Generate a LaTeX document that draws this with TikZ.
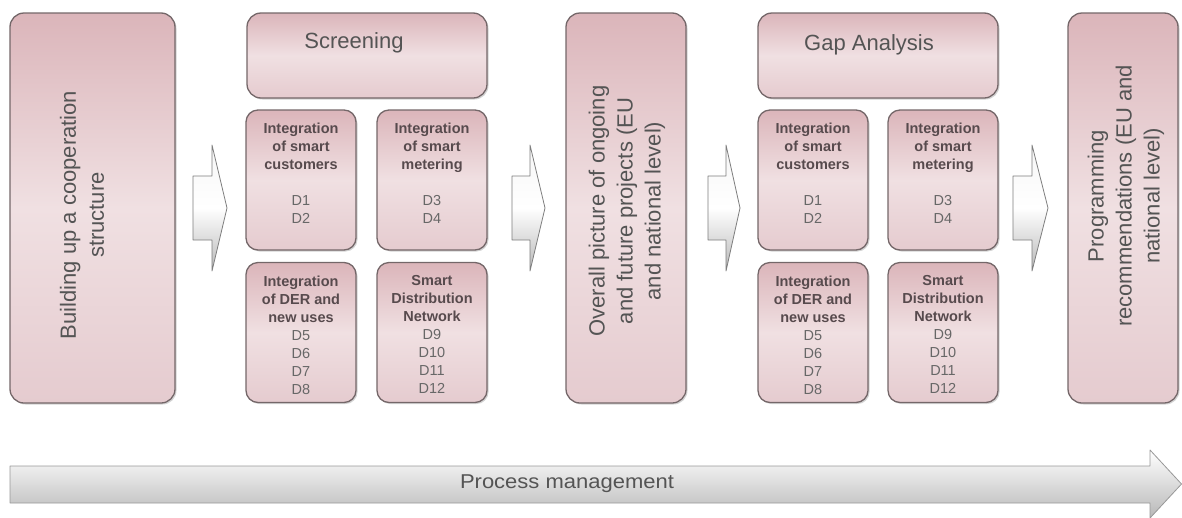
\documentclass[tikz,border=0pt]{standalone}
\usepackage{fontspec}
\setmainfont{Liberation Sans}
\usetikzlibrary{shadows}
\definecolor{pinkTop}{HTML}{DBB5BA}
\definecolor{pinkMid}{HTML}{F0E0E2}
\definecolor{pinkBot}{HTML}{E5CBCF}
\definecolor{boxedge}{HTML}{746769}
\definecolor{txt}{HTML}{545454}
\definecolor{titc}{HTML}{574A4D}
\definecolor{dcol}{HTML}{676767}
\definecolor{arrTop}{HTML}{F6F6F6}
\definecolor{arrBot}{HTML}{B8B8B8}
\definecolor{arrEdge}{HTML}{7E7E7E}
\newcommand\tl[1]{\textbf{\color{titc}#1}}
\newcommand\sidearrow[3]{%
  \draw[sidearr] (#1,176) -- (#2,176) -- (#2,145) -- (#3,208) -- (#2,271) -- (#2,240) -- (#1,240) -- cycle;}
\begin{document}
\begin{tikzpicture}[x=1pt,y=-1pt,
  pbox/.style={draw=boxedge, line width=1.3pt, rounded corners=14pt,
    top color=pinkTop, bottom color=pinkBot, middle color=pinkMid,
    drop shadow={shadow xshift=1.5pt, shadow yshift=-1.5pt, opacity=0.35},
    inner sep=0pt},
  sbox/.style={pbox, rounded corners=12pt, minimum width=110pt, minimum height=140pt},
  bigtext/.style={rotate=90, align=center, text=txt, inner sep=0pt,
    font=\fontsize{22}{28}\selectfont},
  headtext/.style={text=txt, inner sep=0pt, font=\fontsize{22}{26}\selectfont},
  subtext/.style={anchor=north, align=center, text=dcol, inner sep=0pt,
    font=\fontsize{14.5}{18}\selectfont},
  sidearr/.style={draw=arrEdge, line width=0.8pt, line join=round,
    top color=arrTop, bottom color=arrBot, middle color=white},
  bigarr/.style={draw=arrEdge!80, line width=0.8pt, line join=round,
    top color=white, middle color=arrTop, bottom color=arrBot}]
\useasboundingbox (0,0) rectangle (1182,517);

% large boxes
\node[pbox, minimum width=165pt, minimum height=390pt] (build) at (92.5,208) {};
\node[pbox, minimum width=120pt, minimum height=390pt] (overall) at (626,208) {};
\node[pbox, minimum width=110pt, minimum height=390pt] (prog) at (1123,208) {};

% screening group
\node[pbox, minimum width=240pt, minimum height=85pt] (scr) at (367,55.5) {};
\node[sbox] (s1) at (301,180) {};
\node[sbox] (s2) at (432,180) {};
\node[sbox] (s3) at (301,332.5) {};
\node[sbox] (s4) at (432,332.5) {};

% gap analysis group
\node[pbox, minimum width=240pt, minimum height=85pt] (gap) at (878,55.5) {};
\node[sbox] (g1) at (813,180) {};
\node[sbox] (g2) at (943,180) {};
\node[sbox] (g3) at (813,332.5) {};
\node[sbox] (g4) at (943,332.5) {};

% texts
\node[bigtext] (buildt) at (82,215) {Building up a cooperation\\structure};
\node[bigtext] (overallt) at (627,211) {Overall picture of ongoing\\and future projects (EU\\and national level)};
\node[bigtext] (progt) at (1126,196) {Programming\\recommendations (EU and\\national level)};
\node[headtext] (scrt) at (354,43) {Screening};
\node[headtext] (gapt) at (869,45) {Gap Analysis};

\foreach \b in {s1,g1}{
  \node[subtext] at ([yshift=-13pt]\b.north) {\tl{Integration}\\\tl{of smart}\\\tl{customers}\\[18pt]D1\\D2};}
\foreach \b in {s2,g2}{
  \node[subtext] at ([yshift=-13pt]\b.north) {\tl{Integration}\\\tl{of smart}\\\tl{metering}\\[18pt]D3\\D4};}
\foreach \b in {s3,g3}{
  \node[subtext] at ([yshift=-13.5pt]\b.north) {\tl{Integration}\\\tl{of DER and}\\\tl{new uses}\\D5\\D6\\D7\\D8};}
\foreach \b in {s4,g4}{
  \node[subtext] at ([yshift=-13.5pt]\b.north) {\tl{Smart}\\\tl{Distribution}\\\tl{Network}\\D9\\D10\\D11\\D12};}

% block arrows between stages
\sidearrow{193}{212}{227}
\sidearrow{512}{530}{545}
\sidearrow{708}{726}{740}
\sidearrow{1013}{1032}{1048}

% process management arrow
\draw[bigarr] (10,466) -- (1150,466) -- (1150,450) -- (1181.5,484) -- (1150,518) -- (1150,503) -- (10,503) -- cycle;
\node[text=txt, inner sep=0pt, xscale=1.1, font=\fontsize{20}{24}\selectfont] (pm) at (567,484) {Process management};
\end{tikzpicture}
\end{document}
